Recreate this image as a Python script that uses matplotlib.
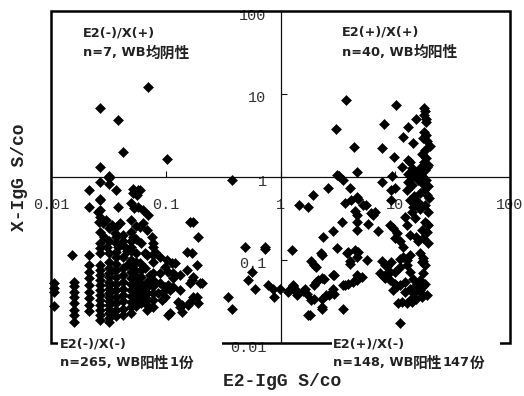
import matplotlib
matplotlib.use("Agg")
import matplotlib.pyplot as plt
from matplotlib.patches import Rectangle
from matplotlib.text import Annotation
from matplotlib.transforms import ScaledTranslation

# ---------------- data (E2-IgG S/co, X-IgG S/co) ----------------
ul_points = [(0.070, 12.1), (0.027, 6.8), (0.038, 4.9), (0.042, 2.0), (0.103, 1.65),
             (0.027, 1.32), (0.032, 1.03)]

ur_points = [(3.70, 8.5), (10.1, 7.3), (17.9, 6.7), (17.9, 5.6), (15.2, 5.0), (18.7, 5.0),
             (3.05, 3.8), (8.0, 4.4), (12.8, 4.0), (17.9, 3.5), (18.7, 3.2), (11.6, 3.06),
             (17.5, 2.95), (14.4, 2.55), (20.0, 2.38), (4.34, 2.32), (7.6, 2.22), (9.8, 1.76),
             (13.4, 1.50), (17.9, 1.50), (11.4, 1.33), (4.6, 1.16), (3.24, 1.04), (9.3, 1.02),
             (13.9, 1.28), (15.3, 1.14), (16.5, 1.09), (17.6, 1.01), (18.2, 1.2), (18.8, 1.33),
             (16.5, 1.28), (13.0, 1.09), (13.9, 1.01), (18.0, 6.2), (18.5, 4.6), (19.0, 2.7),
             (18.3, 2.1), (17.0, 1.9), (18.6, 1.7), (19.2, 1.4), (13.0, 1.6), (3.1, 1.06)]

ll_points = [
    (0.0106, 0.053), (0.0106, 0.046), (0.0106, 0.041), (0.0106, 0.028), (0.0152, 0.115),
    (0.0158, 0.055), (0.0158, 0.048), (0.0158, 0.041), (0.0158, 0.036), (0.0158, 0.030),
    (0.0158, 0.025), (0.0158, 0.0217), (0.0158, 0.018),
    (0.0216, 0.70), (0.0216, 0.44), (0.0216, 0.115), (0.0216, 0.087), (0.0216, 0.072),
    (0.0216, 0.060), (0.0216, 0.050), (0.0216, 0.041), (0.0216, 0.035), (0.0216, 0.0287),
    (0.0216, 0.024),
    (0.027, 0.86), (0.027, 0.55), (0.027, 0.53), (0.027, 0.40), (0.026, 0.29), (0.027, 0.22),
    (0.029, 0.19), (0.027, 0.16), (0.027, 0.14), (0.027, 0.12), (0.027, 0.087), (0.027, 0.075),
    (0.027, 0.066), (0.027, 0.057), (0.027, 0.050), (0.027, 0.043), (0.027, 0.038),
    (0.027, 0.033), (0.027, 0.029), (0.027, 0.025), (0.027, 0.022), (0.027, 0.019),
    (0.0257, 0.38), (0.0267, 0.33), (0.0284, 0.28),
    (0.032, 0.97), (0.032, 0.82), (0.030, 0.30), (0.032, 0.24), (0.032, 0.168), (0.031, 0.144),
    (0.032, 0.12), (0.032, 0.095), (0.032, 0.08), (0.032, 0.07), (0.032, 0.062), (0.032, 0.055),
    (0.032, 0.050), (0.032, 0.045), (0.032, 0.040), (0.032, 0.036), (0.032, 0.032),
    (0.032, 0.029), (0.032, 0.026), (0.032, 0.023), (0.032, 0.020), (0.032, 0.018),
    (0.034, 0.264), (0.036, 0.21),
    (0.037, 0.69), (0.038, 0.44), (0.037, 0.25), (0.037, 0.19), (0.037, 0.16), (0.038, 0.144),
    (0.037, 0.125), (0.037, 0.11), (0.037, 0.09), (0.037, 0.076), (0.037, 0.063), (0.037, 0.052),
    (0.037, 0.0435), (0.037, 0.036), (0.037, 0.030), (0.037, 0.025), (0.037, 0.021),
    (0.040, 0.28), (0.042, 0.20), (0.042, 0.168), (0.042, 0.15), (0.042, 0.11), (0.042, 0.080),
    (0.042, 0.066), (0.042, 0.055), (0.042, 0.045), (0.042, 0.038), (0.042, 0.032),
    (0.042, 0.026), (0.042, 0.0217), (0.046, 0.13), (0.046, 0.087),
    (0.052, 0.72), (0.052, 0.64), (0.050, 0.485), (0.053, 0.42), (0.050, 0.30), (0.050, 0.22),
    (0.052, 0.19), (0.050, 0.17), (0.050, 0.144), (0.050, 0.13), (0.050, 0.10), (0.050, 0.085),
    (0.050, 0.072), (0.050, 0.061), (0.050, 0.052), (0.050, 0.044), (0.050, 0.037),
    (0.050, 0.031), (0.050, 0.027), (0.050, 0.023),
    (0.057, 0.70), (0.056, 0.61), (0.057, 0.435), (0.055, 0.26), (0.055, 0.18), (0.055, 0.12),
    (0.055, 0.095), (0.054, 0.076), (0.055, 0.064), (0.055, 0.054), (0.055, 0.046),
    (0.055, 0.039), (0.055, 0.033), (0.055, 0.028),
    (0.060, 0.69), (0.063, 0.40), (0.063, 0.28), (0.060, 0.25), (0.069, 0.23), (0.061, 0.16),
    (0.066, 0.12), (0.060, 0.092), (0.061, 0.075), (0.061, 0.062), (0.061, 0.052),
    (0.061, 0.043), (0.061, 0.036), (0.061, 0.030),
    (0.070, 0.348), (0.076, 0.19), (0.077, 0.16), (0.068, 0.115), (0.066, 0.080), (0.073, 0.066),
    (0.068, 0.055), (0.068, 0.047), (0.068, 0.040), (0.068, 0.034), (0.068, 0.029),
    (0.068, 0.025), (0.077, 0.145), (0.077, 0.115), (0.077, 0.095), (0.080, 0.125),
    (0.077, 0.070), (0.077, 0.058), (0.077, 0.048), (0.077, 0.040), (0.077, 0.033),
    (0.077, 0.027),
    (0.089, 0.070), (0.105, 0.072), (0.116, 0.061), (0.133, 0.066), (0.103, 0.10), (0.120, 0.092),
    (0.089, 0.053), (0.099, 0.047), (0.109, 0.0435), (0.116, 0.047), (0.086, 0.040),
    (0.095, 0.041), (0.105, 0.050), (0.128, 0.031), (0.133, 0.027), (0.139, 0.0236),
    (0.109, 0.023), (0.089, 0.109), (0.113, 0.092), (0.099, 0.083), (0.116, 0.070),
    (0.162, 0.287), (0.172, 0.287), (0.191, 0.189), (0.153, 0.125), (0.169, 0.123),
    (0.187, 0.087), (0.153, 0.076), (0.169, 0.057), (0.199, 0.053), (0.172, 0.036),
    (0.162, 0.031), (0.139, 0.0287), (0.105, 0.0217), (0.133, 0.0435), (0.099, 0.036),
    (0.093, 0.033), (0.172, 0.062), (0.162, 0.053), (0.207, 0.053), (0.187, 0.036),
    (0.191, 0.030), (0.156, 0.0287),
    (0.347, 0.036), (0.377, 0.026), (0.49, 0.144), (0.56, 0.0716), (0.52, 0.057), (0.60, 0.045),
    (0.73, 0.144), (0.73, 0.135), (0.78, 0.050), (0.86, 0.045), (0.88, 0.036), (0.99, 0.045),
    (0.378, 0.92)]

lr_points = [
    (2.60, 0.73), (1.91, 0.60), (1.45, 0.46), (1.72, 0.44), (3.67, 0.48), (4.62, 0.58),
    (4.76, 0.55), (5.58, 0.46), (6.69, 0.38), (4.49, 0.39), (4.62, 0.35), (4.62, 0.29),
    (4.67, 0.23), (3.42, 0.29), (5.76, 0.27), (7.13, 0.226), (2.87, 0.225), (2.33, 0.19),
    (1.27, 0.132), (2.25, 0.123), (1.83, 0.097), (1.94, 0.087), (3.9, 0.126), (4.76, 0.126),
    (4.06, 0.097), (5.64, 0.10), (2.84, 0.066), (2.28, 0.060), (2.12, 0.057), (2.02, 0.054),
    (4.76, 0.063), (4.62, 0.057), (4.31, 0.054), (3.67, 0.050), (3.9, 0.051), (1.29, 0.048),
    (1.19, 0.0435), (1.38, 0.040), (1.56, 0.042), (1.83, 0.033), (1.94, 0.034), (2.28, 0.034),
    (2.73, 0.040), (2.62, 0.038), (2.28, 0.026), (1.80, 0.0217), (3.53, 0.026), (11.0, 0.0175),
    (3.53, 0.92), (4.06, 0.73), (4.15, 0.53), (5.26, 0.46), (6.2, 0.37), (6.42, 0.35),
    (7.6, 0.88), (9.19, 0.70), (9.95, 0.73), (9.19, 0.53), (9.0, 0.264), (9.5, 0.24),
    (10.4, 0.21), (9.95, 0.185), (11.0, 0.168), (11.8, 0.145), (12.2, 0.33), (13.9, 0.38),
    (14.9, 0.317), (18.2, 0.287), (17.0, 0.23), (15.3, 0.19), (13.5, 0.20), (15.8, 0.168),
    (17.6, 0.185), (12.6, 0.264), (3.1, 0.138), (4.49, 0.132),
    (13.0, 0.86), (14.0, 0.80), (15.8, 0.92), (17.1, 0.85), (18.5, 0.92), (19.3, 0.78),
    (17.8, 0.70), (16.5, 0.64), (18.9, 0.61), (14.6, 0.59), (13.5, 0.53), (15.8, 0.50),
    (18.2, 0.46), (19.7, 0.56), (12.7, 0.70), (14.3, 0.435), (19.3, 0.38), (16.5, 0.41),
    (19.3, 0.264), (18.9, 0.215),
    (8.15, 0.086), (9.19, 0.095), (8.6, 0.0716), (7.9, 0.063), (9.0, 0.057), (9.95, 0.052),
    (11.0, 0.050), (12.2, 0.054), (13.5, 0.045), (15.3, 0.050), (16.5, 0.041), (18.2, 0.052),
    (18.8, 0.038), (17.0, 0.036), (15.3, 0.034), (13.9, 0.031), (12.6, 0.030), (11.5, 0.031),
    (10.6, 0.030), (12.2, 0.041), (9.95, 0.0716), (11.0, 0.083), (12.6, 0.086), (13.5, 0.0716),
    (14.4, 0.059), (16.5, 0.057), (18.2, 0.086), (17.0, 0.095), (13.5, 0.114), (11.0, 0.104),
    (4.06, 0.09), (4.6, 0.109), (3.78, 0.12), (2.93, 0.066), (2.93, 0.039), (3.53, 0.050),
    (5.1, 0.063), (4.62, 0.066),
    (7.6, 0.097), (8.4, 0.084), (7.38, 0.069), (8.15, 0.060), (9.0, 0.072), (12.6, 0.10),
    (17.6, 0.069), (17.6, 0.097), (17.6, 0.048), (16.5, 0.0435), (14.3, 0.040), (13.5, 0.033),
    (9.6, 0.0435), (10.4, 0.048), (18.8, 0.275), (19.4, 0.16), (16.5, 0.12), (11.8, 0.11),
    (17.6, 0.105),
    (1.17, 0.041), (1.29, 0.050), (1.38, 0.038), (1.33, 0.045), (1.64, 0.045), (1.70, 0.039),
    (2.02, 0.083), (2.28, 0.114), (1.94, 0.050), (2.37, 0.059), (2.47, 0.038), (2.84, 0.045),
    (1.75, 0.0215), (2.28, 0.0275)]

tick_values = [0.01, 0.1, 1, 10, 100]
tick_labels = ["0.01", "0.1", "1", "10", "100"]
x_label = "E2-IgG S/co"
y_label = "X-IgG S/co"
quadrant_titles = ["E2(-)/X(+)", "E2(+)/X(+)", "E2(-)/X(-)", "E2(+)/X(-)"]
quadrant_notes = [
    ["n=7, WB", "均阴性"],
    ["n=40, WB", "均阳性"],
    ["n=265, WB", "阳性", "1", "份"],
    ["n=148, WB", "阳性", "147", "份"],
]

# ---------------- figure ----------------
W, H = 524, 396
fig = plt.figure(figsize=(W / 100, H / 100), dpi=100)
fig.patch.set_facecolor("white")
fx = lambda px: px / W
fy = lambda py: 1 - py / H

ax = fig.add_axes([fx(51), fy(343), (510 - 51) / W, (343 - 11) / H])
ax.set_xscale("log")
ax.set_yscale("log")
ax.set_xlim(0.01, 100)
ax.set_ylim(0.01, 100)
ax.set_facecolor("white")

for s in ["top", "right"]:
    ax.spines[s].set_visible(False)
ax.spines["left"].set_position(("data", 1))
ax.spines["bottom"].set_position(("data", 1))
for s in ["left", "bottom"]:
    ax.spines[s].set_linewidth(0.9)
    ax.spines[s].set_color("#111111")

ax.add_patch(Rectangle((0, 0), 1, 1, transform=ax.transAxes, fill=False,
                       lw=1.8, ec="black", clip_on=False, zorder=4))

ax.set_xticks(tick_values)
ax.set_xticklabels(tick_labels)
ax.set_yticks(tick_values)
ax.set_yticklabels(tick_labels)
ax.minorticks_off()
ax.tick_params(direction="in", length=4, width=0.8, color="#111111",
               labelsize=11, labelcolor="#333333")
ax.tick_params(axis="x", pad=15)
ax.tick_params(axis="y", pad=10)
for lab in ax.get_xticklabels() + ax.get_yticklabels():
    lab.set_family("Liberation Mono")
for lab in ax.get_yticklabels():
    lab.set_transform(lab.get_transform() + ScaledTranslation(0, -3 / 100, fig.dpi_scale_trans))

for pts in (ul_points, ur_points, ll_points, lr_points):
    xs = [p[0] for p in pts]
    ys = [p[1] for p in pts]
    ax.plot(xs, ys, linestyle="none", marker="D", ms=5.0, mfc="black",
            mec="black", mew=0.4, clip_on=False, zorder=3)

# axis titles
fig.text(fx(282), fy(382), x_label, ha="center", va="center", fontsize=13,
         fontweight="bold", family="Liberation Mono", color="#222222")
fig.text(fx(20), fy(177), y_label, ha="center", va="center", rotation=90,
         fontsize=13, fontweight="bold", family="Liberation Mono", color="#222222")

# white boxes where quadrant labels interrupt the bottom frame
fig.patches.append(Rectangle((fx(58), fy(372)), (222 - 58) / W, (372 - 337) / H,
                             transform=fig.transFigure, fc="white", ec="none", zorder=5))
fig.patches.append(Rectangle((fx(332), fy(372)), (500 - 332) / W, (372 - 337) / H,
                             transform=fig.transFigure, fc="white", ec="none", zorder=5))


def is_cjk(s):
    return any(ord(c) > 0x2E80 for c in s)


positions = [(83, 33, 53), (342, 32, 52), (60, 344, 363), (333, 344, 363)]
for title, segs, (px, py1, py2) in zip(quadrant_titles, quadrant_notes, positions):
    fig.text(fx(px), fy(py1), title, ha="left", va="center", fontsize=9.3,
             fontweight="bold", family="DejaVu Sans", color="#222222", zorder=6)
    prev = None
    for seg in segs:
        kw = dict(fontweight="bold", color="#222222")
        if is_cjk(seg):
            kw.update(family="Noto Sans CJK SC", fontsize=10.6)
        else:
            kw.update(family="DejaVu Sans", fontsize=9.3)
        if prev is None:
            prev = fig.text(fx(px), fy(py2), seg, ha="left", va="center", zorder=6, **kw)
        else:
            ann = Annotation(seg, xy=(1, 0.5), xycoords=prev, ha="left", va="center",
                             annotation_clip=False, **kw)
            ann.set_zorder(6)
            fig.add_artist(ann)
            prev = ann

fig.savefig("out.png", dpi=100, facecolor="white")
